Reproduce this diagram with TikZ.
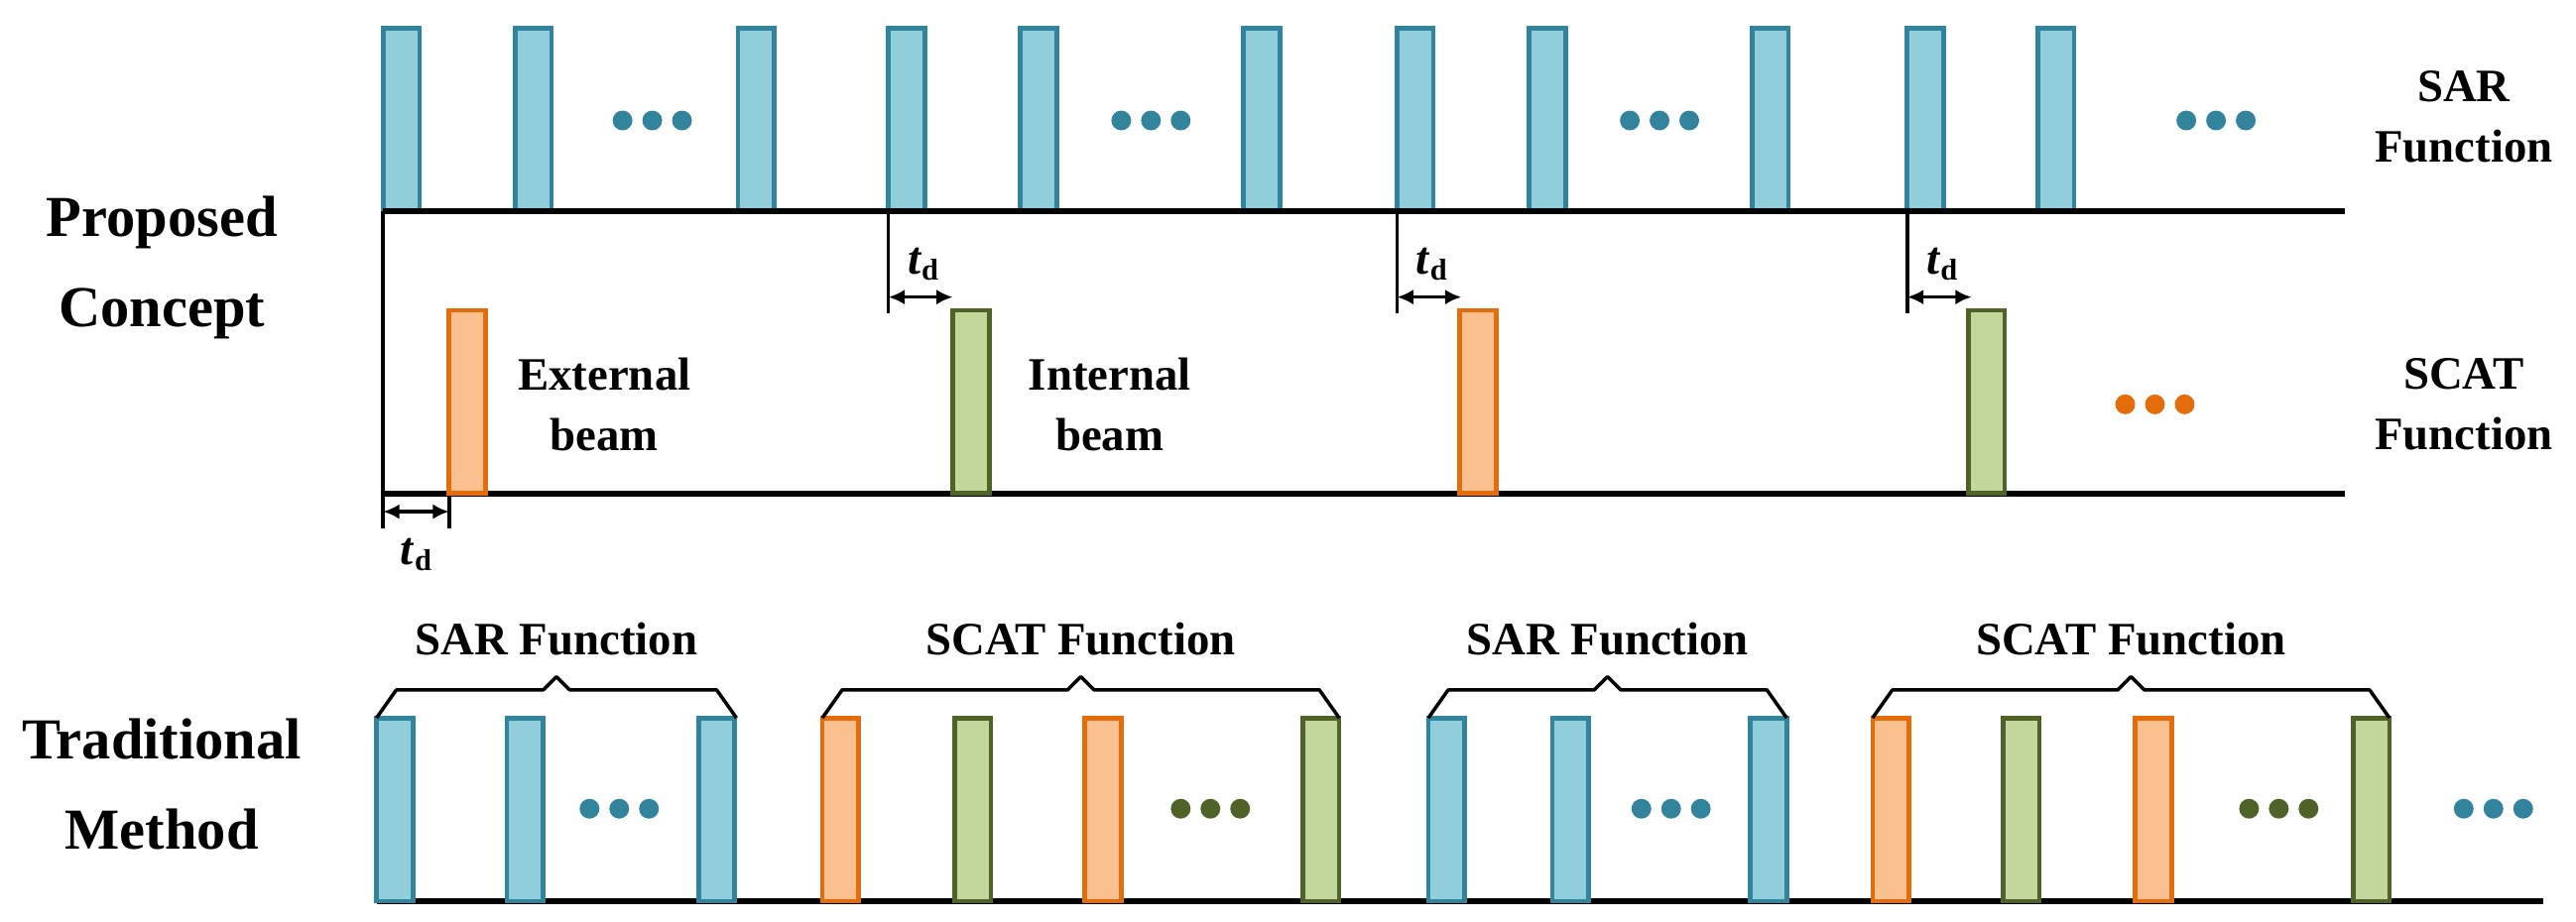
\documentclass[tikz,border=0pt]{standalone}
\usepackage{fontspec}
\setmainfont{Liberation Serif}
\usetikzlibrary{arrows.meta}
\definecolor{bfill}{HTML}{92CDDC}\definecolor{bdraw}{HTML}{31849B}
\definecolor{ofill}{HTML}{FAC090}\definecolor{odraw}{HTML}{E46C0A}
\definecolor{gfill}{HTML}{C3D69B}\definecolor{gdraw}{HTML}{4F6228}
\newcommand\tdlab{\textit{t}\raisebox{-0.3ex}{\fontsize{26}{28}\selectfont d}}
\begin{document}
\begin{tikzpicture}[x=0.05cm,y=-0.05cm,
 base/.style={line width=5.5pt},
 pb/.style={fill=bfill,draw=bdraw,line width=4pt},
 po/.style={fill=ofill,draw=odraw,line width=4pt},
 pg/.style={fill=gfill,draw=gdraw,line width=4pt},
 lab/.style={font=\fontsize{40}{52}\selectfont\bfseries,align=center},
 big/.style={font=\fontsize{50}{78}\selectfont\bfseries,align=center},
 dim/.style={line width=3pt,{Latex[length=14pt,width=13pt]}-{Latex[length=14pt,width=13pt]}},
 thin/.style={line width=3pt},
 br/.style={line width=3pt}]
\useasboundingbox (0,0) rectangle (1560,558.6);
% SAR row
\foreach \x in {232,312,447,538,618,753,846,926,1061,1155,1234}
  \draw[pb] (\x,17) rectangle ++(22,111);
\foreach \x/\c in {395/bdraw,697/bdraw,1005/bdraw,1342/bdraw}
  \foreach \d in {-18,0,18} \fill[\c] (\x+\d,73) circle (6);
\draw[base] (232,128) coordinate (a1) -- (1420,128) coordinate (a2);
\draw[base] (232,299) coordinate (b1) -- (1420,299) coordinate (b2);
\draw[thin] (232,128) -- (232,320);
\draw[thin] (272,299) -- (272,320);
\foreach \x in {538,846,1155} {
  \draw[thin] (\x,128) -- (\x,190);
  \draw[dim] (\x,180) -- (\x+39,180);
  \node[lab] at (\x+21,160) {\tdlab};
}
\draw[dim] (232,310) -- (272,310);
\node[lab] at (252,336) {\tdlab};
\draw[po] (272,188) rectangle ++(22,111);
\draw[pg] (577,188) rectangle ++(22,111);
\draw[po] (884,188) rectangle ++(22,111);
\draw[pg] (1192,188) rectangle ++(22,111);
\foreach \d in {-18,0,18} \fill[odraw] (1305+\d,245) circle (6);
\node[lab] (ext) at (366,245) {External\\beam};
\node[lab] (int) at (672,245) {Internal\\beam};
\node[lab] (sarf) at (1492,71) {SAR\\Function};
\node[lab] (scatf) at (1492,245) {SCAT\\Function};
\node[big] (pc) at (98,162) {Proposed\\Concept};
\node[big] (tm) at (98,475) {Traditional\\Method};
% Traditional
\draw[base] (228,546) -- (1540,546);
\foreach \x in {228,307,423,865,940,1060} \draw[pb] (\x,435) rectangle ++(22,111);
\foreach \x in {498,657,1134,1293} \draw[po] (\x,435) rectangle ++(22,111);
\foreach \x in {578,789,1213,1425} \draw[pg] (\x,435) rectangle ++(22,111);
\foreach \x/\c in {375/bdraw,733/gdraw,1012/bdraw,1380/gdraw,1510/bdraw}
  \foreach \d in {-18,0,18} \fill[\c] (\x+\d,490) circle (6);
\foreach \a/\b/\t in {228/446/SAR Function,498/811/SCAT Function,865/1082/SAR Function,1134/1447/SCAT Function} {
  \pgfmathsetmacro\c{(\a+\b)/2}
  \draw[br,line join=round] (\a,435) -- (\a+12,418) -- (\c-8,418) -- (\c,410) -- (\c+8,418) -- (\b-12,418) -- (\b,435);
  \node[lab] at (\c,387) {\t};
}
\end{tikzpicture}
\end{document}
